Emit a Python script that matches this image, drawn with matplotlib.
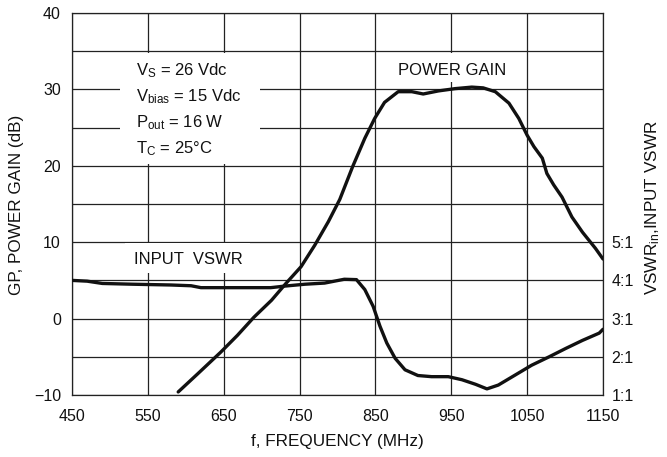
import matplotlib
matplotlib.use("Agg")
import matplotlib.pyplot as plt
from matplotlib import font_manager
from matplotlib.patches import Rectangle

# ---- data ----
gain_freq = [590, 616, 646, 668, 690, 713, 732, 752, 770, 788, 803, 820, 836, 849, 862, 880,
             898, 913, 933, 955, 977, 992, 1008, 1026, 1039, 1050, 1059, 1070, 1076, 1085,
             1096, 1109, 1123, 1140, 1150]
gain_db = [-9.6, -7.2, -4.4, -2.2, 0.2, 2.4, 4.6, 6.8, 9.6, 12.7, 15.6, 19.9, 23.6, 26.2, 28.3, 29.7,
           29.7, 29.4, 29.8, 30.1, 30.3, 30.2, 29.7, 28.2, 26.2, 24.0, 22.5, 21.0, 19.0, 17.5,
           15.9, 13.3, 11.3, 9.2, 7.8]

vswr_freq = [450, 470, 490, 530, 580, 607, 620, 668, 712, 730, 757, 783, 809, 825, 836, 847,
             856, 865, 876, 889, 906, 924, 946, 964, 982, 997, 1012, 1034, 1056, 1079, 1101,
             1123, 1145, 1150]
vswr_val = [4.00, 3.98, 3.92, 3.90, 3.88, 3.86, 3.81, 3.81, 3.81, 3.85, 3.90, 3.93, 4.03, 4.02, 3.76, 3.32,
            2.80, 2.36, 1.96, 1.66, 1.51, 1.48, 1.48, 1.40, 1.28, 1.16, 1.26, 1.52, 1.78, 2.00, 2.22,
            2.43, 2.62, 2.72]

x_ticks = [450, 550, 650, 750, 850, 950, 1050, 1150]
y_ticks = [-10, 0, 10, 20, 30, 40]
y_grid = [-10, -5, 0, 5, 10, 15, 20, 25, 30, 35, 40]
vswr_ticks = [1, 2, 3, 4, 5]
vswr_labels = ["1:1", "2:1", "3:1", "4:1", "5:1"]

# ---- fonts ----
avail = {f.name for f in font_manager.fontManager.ttflist}
fam = [f for f in ["Liberation Sans Narrow", "Liberation Sans", "DejaVu Sans"] if f in avail]
plt.rcParams["font.family"] = fam
plt.rcParams["mathtext.fontset"] = "custom"
plt.rcParams["mathtext.rm"] = fam[0]
plt.rcParams["mathtext.it"] = fam[0]
plt.rcParams["mathtext.default"] = "regular"

ink = "#111111"
fig = plt.figure(figsize=(6.67, 4.57), dpi=100)
ax = fig.add_axes([72/667, 1 - 395/457, (603-72)/667, (395-13)/457])

ax.set_xlim(450, 1150)
ax.set_ylim(-10, 40)
ax.set_xticks(x_ticks)
ax.set_yticks(y_ticks)
ax.set_yticks(y_grid, minor=True)
ax.tick_params(axis="both", which="both", length=0, labelsize=11.5, colors=ink)
ax.tick_params(axis="x", pad=10)
ax.tick_params(axis="y", pad=8)
ax.set_axisbelow(True)
ax.grid(True, which="major", axis="both", color="#222222", lw=0.9)
ax.grid(True, which="minor", axis="y", color="#222222", lw=0.9)
for s in ax.spines.values():
    s.set_color("#222222")
    s.set_linewidth(0.9)

# white label backgrounds
ax.add_patch(Rectangle((513, 20.3), 698-513, 34.7-20.3, facecolor="white", edgecolor="none", zorder=1))
ax.add_patch(Rectangle((869, 31.0), 1034-869, 34.8-31.0, facecolor="white", edgecolor="none", zorder=1))
ax.add_patch(Rectangle((520, 6.0), 685-520, 9.9-6.0, facecolor="white", edgecolor="none", zorder=1))

ax.plot(gain_freq, gain_db, color=ink, lw=2.4, zorder=3, solid_capstyle="round", solid_joinstyle="round")

ax2 = ax.twinx()
ax2.set_ylim(1, 11)
ax2.set_yticks(vswr_ticks)
ax2.set_yticklabels(vswr_labels)
ax2.tick_params(axis="y", length=0, labelsize=11.5, pad=6, colors=ink)
for s in ax2.spines.values():
    s.set_visible(False)
ax2.plot(vswr_freq, vswr_val, color=ink, lw=2.4, zorder=3, solid_capstyle="round", solid_joinstyle="round")

# labels
ax.set_xlabel("f, FREQUENCY (MHz)", fontsize=12.3, labelpad=7, color=ink)
fig.text(17/667, 1 - 205/457, "GP, POWER GAIN (dB)", rotation=90, fontsize=12.3,
         ha="center", va="center", color=ink)
fig.text(653/667, 1 - 208/457, r"VSWR$_{in}$,INPUT VSWR", rotation=90, fontsize=12.3,
         ha="center", va="center", color=ink)

ax.text(535, 31.8, r"V$_S$ = 26 Vdc", fontsize=12, zorder=4, color=ink, va="baseline")
ax.text(535, 28.5, r"V$_{bias}$ = 15 Vdc", fontsize=12, zorder=4, color=ink, va="baseline")
ax.text(535, 25.0, r"P$_{out}$ = 16 W", fontsize=12, zorder=4, color=ink, va="baseline")
ax.text(535, 21.7, r"T$_C$ = 25°C", fontsize=12, zorder=4, color=ink, va="baseline")

ax.text(951, 32.5, "POWER GAIN", fontsize=12, ha="center", va="center", zorder=4, color=ink)
ax.text(603, 7.7, "INPUT  VSWR", fontsize=12, ha="center", va="center", zorder=4, color=ink)

fig.savefig("out.png", dpi=100)
